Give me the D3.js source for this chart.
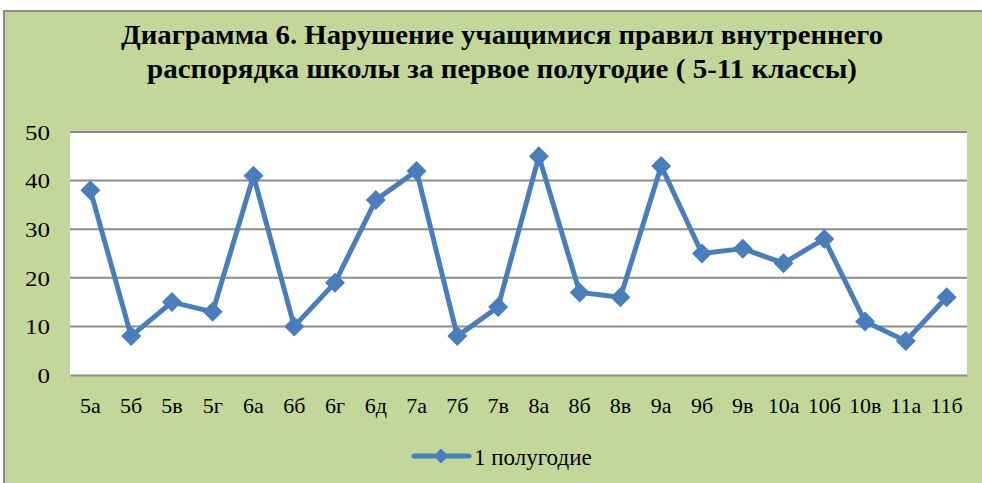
<!DOCTYPE html>
<html>
<head>
<meta charset="utf-8">
<script src="https://cdn.jsdelivr.net/npm/d3@7"></script>
<style>
  body { margin: 0; background: #fff; }
  svg { display: block; }
</style>
</head>
<body>
<svg id="chart" width="982" height="483"></svg>
<script>
// classes and number of violations, first half-year
var classes = ["5а","5б","5в","5г","6а","6б","6г","6д","7а","7б","7в","8а","8б","8в","9а","9б","9в","10а","10б","10в","11а","11б"];
var violations = [38, 8, 15, 13, 41, 10, 19, 36, 42, 8, 14, 45, 17, 16, 43, 25, 26, 23, 28, 11, 7, 16];
var yTicks = [0, 10, 20, 30, 40, 50];
var titleLines = ["Диаграмма 6. Нарушение учащимися правил внутреннего", "распорядка школы за первое полугодие ( 5-11 классы)"];
var seriesName = "1 полугодие";

var W = 982, H = 483;
var plot = {left: 70, right: 967, top: 132, bottom: 375};
var lineColor = "#4a7ebb";

var svg = d3.select("#chart");

// outer green frame
svg.append("rect")
    .attr("x", 4).attr("y", 11)
    .attr("width", W + 10).attr("height", H + 10)
    .style("fill", "#c4d79b")
    .style("stroke", "#8c8c8c")
    .style("stroke-width", 2);

// title
var titleWidths = [762, 710];
svg.selectAll("text.title").data(titleLines).enter().append("text")
    .attr("class", "title")
    .attr("x", 502)
    .attr("y", function(d, i){ return 44 + i * 34; })
    .attr("text-anchor", "middle")
    .attr("textLength", function(d, i){ return titleWidths[i]; })
    .attr("lengthAdjust", "spacingAndGlyphs")
    .attr("font-family", "Liberation Serif")
    .attr("font-weight", "bold")
    .attr("font-size", 27)
    .attr("fill", "#000")
    .text(function(d){ return d; });

// plot area
svg.append("rect")
    .attr("x", plot.left).attr("y", plot.top)
    .attr("width", plot.right - plot.left).attr("height", plot.bottom - plot.top)
    .style("fill", "#fff");

var x = d3.scaleBand().domain(classes).range([plot.left, plot.right]);
var y = d3.scaleLinear().domain([0, 50]).range([plot.bottom, plot.top]);

// gridlines
svg.selectAll("line.grid").data(yTicks.filter(function(d){ return d > 0; })).enter().append("line")
    .attr("class", "grid")
    .attr("x1", plot.left).attr("x2", plot.right)
    .attr("y1", function(d){ return y(d); }).attr("y2", function(d){ return y(d); })
    .style("stroke", "#8c8c8c")
    .style("stroke-width", 2);

// y axis labels
var yAxis = svg.append("g")
    .attr("transform", "translate(" + plot.left + ",0)")
    .call(d3.axisLeft(y).tickValues(yTicks).tickSize(0).tickPadding(20))
    .attr("font-family", "serif")
    .attr("font-size", 21);
yAxis.select(".domain").remove();
yAxis.selectAll("text")
    .attr("dy", "0.35em")
    .attr("textLength", function(d){ return String(d).length * 12.5; })
    .attr("lengthAdjust", "spacingAndGlyphs")
    .attr("fill", "#000");

// x axis
var xAxis = svg.append("g")
    .attr("transform", "translate(0," + plot.bottom + ")")
    .call(d3.axisBottom(x).tickSize(0).tickPadding(0))
    .attr("font-family", "Times New Roman")
    .attr("font-size", 22);
xAxis.select(".domain")
    .style("stroke", "#8c8c8c")
    .style("stroke-width", 2);
xAxis.selectAll("text")
    .attr("y", 38)
    .attr("dy", 0)
    .attr("fill", "#000");

// line
var cx = function(d, i){ return x(classes[i]) + x.bandwidth() / 2; };
var line = d3.line()
    .x(cx)
    .y(function(d){ return y(d); });

svg.append("path")
    .datum(violations)
    .attr("d", line)
    .style("fill", "none")
    .style("stroke", lineColor)
    .style("stroke-width", 5)
    .style("stroke-linejoin", "round");

var diamond = d3.symbol().type(d3.symbolSquare).size(200);
svg.selectAll("path.marker").data(violations).enter().append("path")
    .attr("class", "marker")
    .attr("d", diamond)
    .attr("transform", function(d, i){ return "translate(" + cx(d, i) + "," + y(d) + ") rotate(45)"; })
    .style("fill", lineColor);

// legend
var leg = svg.append("g").attr("transform", "translate(414,456)");
leg.append("line")
    .attr("x1", 0).attr("x2", 55).attr("y1", 0).attr("y2", 0)
    .style("stroke", lineColor)
    .style("stroke-width", 5)
    .style("stroke-linecap", "round");
leg.append("path")
    .attr("d", d3.symbol().type(d3.symbolSquare).size(110))
    .attr("transform", "translate(27,0) rotate(45)")
    .style("fill", lineColor);
leg.append("text")
    .attr("x", 60).attr("y", 9)
    .attr("font-family", "Tinos")
    .attr("font-size", 23)
    .attr("fill", "#000")
    .text(seriesName);
</script>
</body>
</html>
